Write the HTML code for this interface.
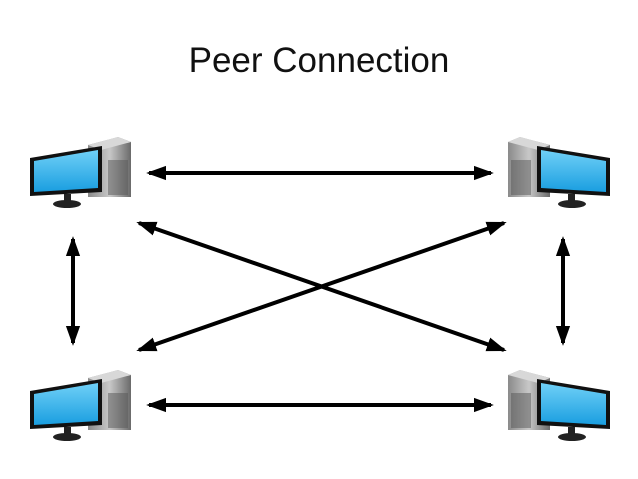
<!DOCTYPE html>
<html><head><style>
html,body{margin:0;padding:0;background:#fff;}
svg{display:block;}
</style></head><body>
<svg width="638" height="479" viewBox="0 0 638 479" xmlns="http://www.w3.org/2000/svg">
<defs>
<linearGradient id="tw" x1="0" x2="1"><stop offset="0" stop-color="#8a8a8a"/><stop offset="0.5" stop-color="#c8c8c8"/><stop offset="1" stop-color="#6a6a6a"/></linearGradient>
<linearGradient id="sc" x1="0" y1="0" x2="0" y2="1"><stop offset="0" stop-color="#6fd0f7"/><stop offset="1" stop-color="#1a9ee0"/></linearGradient>
<marker id="a" viewBox="0 0 14 10" refX="12" refY="5" markerWidth="5" markerHeight="4" orient="auto-start-reverse"><path d="M0,0 L14,5 L0,10 z" fill="#000"/></marker>
<g id="pcL">
 <polygon points="88,145 118,137 131,142 131,197 88,197" fill="url(#tw)"/>
 <polygon points="88,145 118,137 131,142 101,150" fill="#d8d8d8"/>
 <rect x="108" y="160" width="20" height="35" fill="#555" opacity="0.5"/>
 <polygon points="30,158 102,146 102,192 30,196" fill="#111"/>
 <polygon points="34,161 98,150 98,188 34,192" fill="url(#sc)"/>
 <rect x="64" y="194" width="7" height="8" fill="#222"/>
 <ellipse cx="67" cy="204" rx="14" ry="4" fill="#222"/>
</g>
<g id="pcR">
 <polygon points="550,145 520,137 508,142 508,197 550,197" fill="url(#tw)"/>
 <polygon points="550,145 520,137 508,142 538,150" fill="#d8d8d8"/>
 <rect x="511" y="160" width="20" height="35" fill="#555" opacity="0.5"/>
 <polygon points="537,146 610,158 610,196 537,192" fill="#111"/>
 <polygon points="541,150 606,161 606,192 541,188" fill="url(#sc)"/>
 <rect x="568" y="194" width="7" height="8" fill="#222"/>
 <ellipse cx="572" cy="204" rx="14" ry="4" fill="#222"/>
</g>
</defs>
<text x="319" y="72" text-anchor="middle" font-family="Liberation Sans, sans-serif" font-size="35" fill="#111">Peer Connection</text>
<use href="#pcL"/>
<use href="#pcR"/>
<use href="#pcL" y="233"/>
<use href="#pcR" y="233"/>
<g stroke="#000" stroke-width="4" marker-start="url(#a)" marker-end="url(#a)">
<line x1="149" y1="173" x2="491" y2="173"/>
<line x1="149" y1="405" x2="491" y2="405"/>
<line x1="73" y1="239" x2="73" y2="343"/>
<line x1="563" y1="239" x2="563" y2="343"/>
<line x1="139" y1="223" x2="504" y2="350"/>
<line x1="139" y1="350" x2="504" y2="223"/>
</g>
</svg>
</body></html>
